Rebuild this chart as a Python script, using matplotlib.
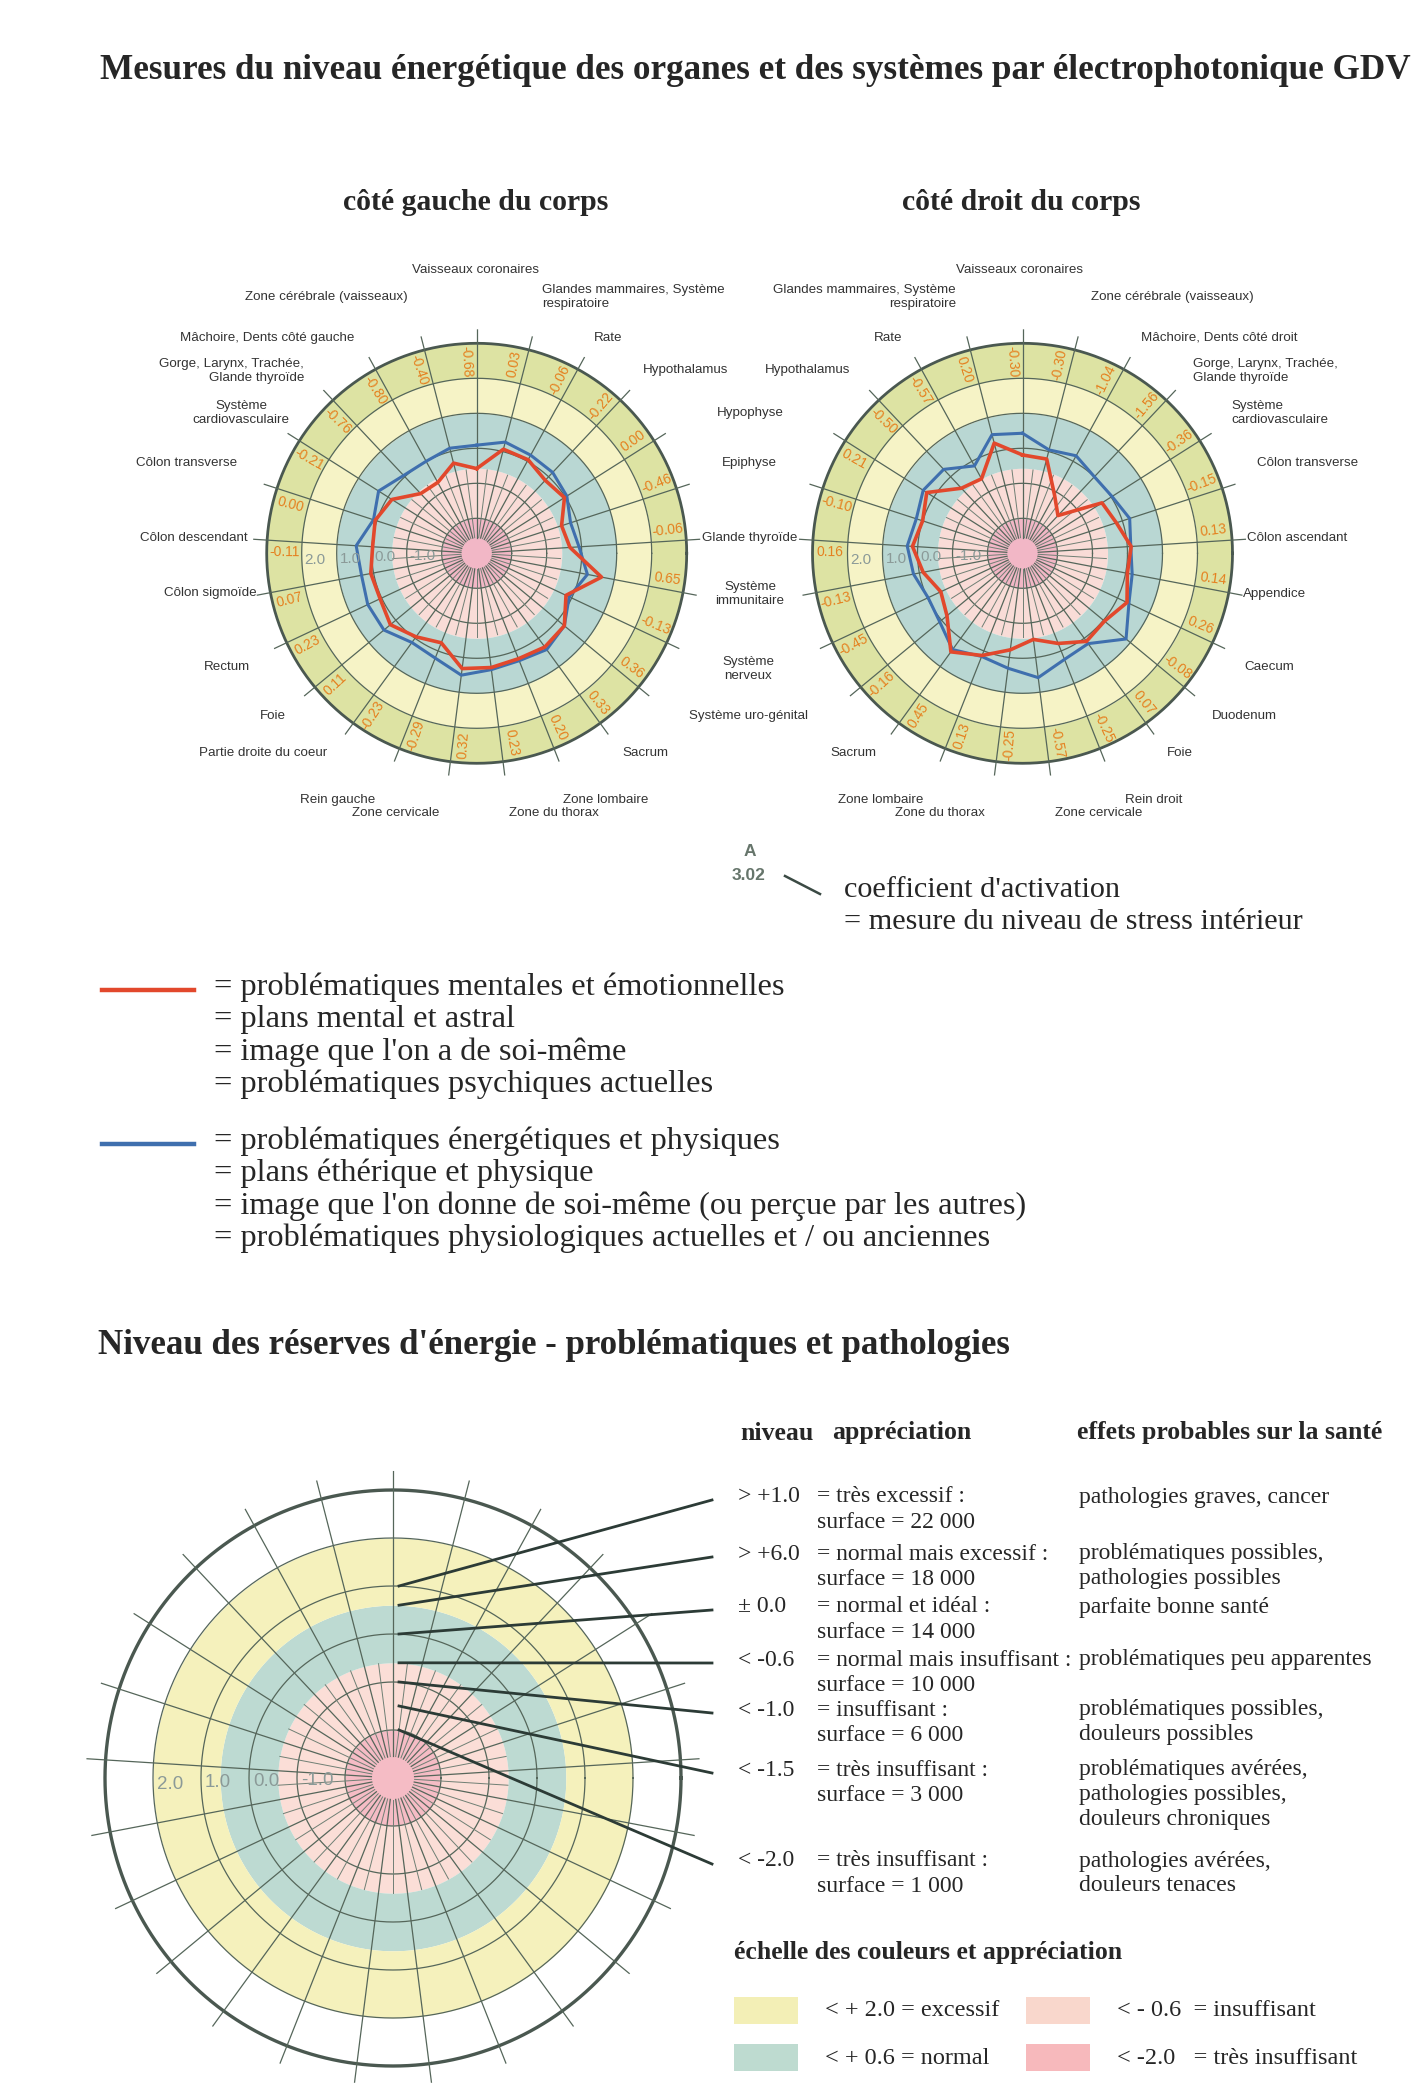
import numpy as np
import matplotlib
matplotlib.use("Agg")
import matplotlib.pyplot as plt
from matplotlib import font_manager
from matplotlib.lines import Line2D
from matplotlib.patches import Rectangle

W, H = 1422, 2097

# ---------------- data ----------------
organes_gauche = ["Vaisseaux coronaires", "Glandes mammaires, Système\nrespiratoire", "Rate",
                  "Hypothalamus", "Hypophyse", "Epiphyse", "Glande thyroïde",
                  "Système\nimmunitaire", "Système\nnerveux", "Système uro-génital", "Sacrum",
                  "Zone lombaire", "Zone du thorax", "Zone cervicale", "Rein gauche",
                  "Partie droite du coeur", "Foie", "Rectum", "Côlon sigmoïde",
                  "Côlon descendant", "Côlon transverse", "Système\ncardiovasculaire",
                  "Gorge, Larynx, Trachée,\nGlande thyroïde", "Mâchoire, Dents côté gauche",
                  "Zone cérébrale (vaisseaux)"]
organes_droit = ["Vaisseaux coronaires", "Zone cérébrale (vaisseaux)", "Mâchoire, Dents côté droit",
                 "Gorge, Larynx, Trachée,\nGlande thyroïde", "Système\ncardiovasculaire",
                 "Côlon transverse", "Côlon ascendant", "Appendice", "Caecum", "Duodenum", "Foie",
                 "Rein droit", "Zone cervicale", "Zone du thorax", "Zone lombaire", "Sacrum",
                 "Système uro-génital", "Système\nnerveux", "Système\nimmunitaire",
                 "Glande thyroïde", "Epiphyse", "Hypophyse", "Hypothalamus", "Rate",
                 "Glandes mammaires, Système\nrespiratoire"]

# values at each organ line, clockwise from the top
rouge_gauche = [-0.58, 0.07, 0.05, -0.14, -0.03, -0.45, -0.33, 0.63, -0.18, 0.25, 0.31, 0.24,
                0.29, 0.32, -0.25, -0.05, 0.20, 0.05, 0.08, -0.02, 0.05, -0.13, -0.66, -0.69, -0.34]
bleu_gauche = [0.09, 0.28, 0.20, 0.17, 0.05, -0.18, -0.07, 0.22, -0.08, 0.25, 0.40, 0.30,
               0.35, 0.51, 0.22, 0.15, 0.44, 0.44, 0.35, 0.45, 0.10, 0.32, 0.05, 0.00, 0.10]
rouge_droit = [-0.19, -0.22, -1.10, -1.52, -0.31, -0.18, 0.11, 0.05, 0.30, 0.04, 0.11, -0.23,
               -0.52, -0.22, 0.14, 0.48, -0.20, -0.42, -0.11, 0.15, 0.00, 0.24, -0.45, -0.57, 0.25]
bleu_droit = [0.43, 0.05, 0.18, 0.00, 0.03, 0.22, 0.10, 0.19, 0.36, 0.84, 0.19, 0.26,
              0.58, 0.31, 0.17, 0.40, 0.07, -0.02, 0.17, 0.30, 0.19, 0.36, 0.29, -0.15, 0.50]

# values written in the outer ring, clockwise from the sector left of the top
secteurs_gauche = [-0.68, 0.03, -0.06, -0.22, 0.00, -0.46, -0.06, 0.65, -0.13, 0.36, 0.33, 0.20,
                   0.23, 0.32, -0.29, -0.23, 0.11, 0.23, 0.07, -0.11, 0.00, -0.21, -0.76, -0.80, -0.40]
secteurs_droit = [-0.30, -0.30, -1.04, -1.56, -0.36, -0.15, 0.13, 0.14, 0.26, -0.08, 0.07, -0.25,
                  -0.57, -0.25, 0.13, 0.45, -0.16, -0.45, -0.13, 0.16, -0.10, 0.21, -0.50, -0.57, 0.20]

anneaux = [2.0, 1.0, 0.0, -1.0]
coefficient = 3.02

legende_rouge = ["= problématiques mentales et émotionnelles", "= plans mental et astral",
                 "= image que l'on a de soi-même", "= problématiques psychiques actuelles"]
legende_bleu = ["= problématiques énergétiques et physiques", "= plans éthérique et physique",
                "= image que l'on donne de soi-même (ou perçue par les autres)",
                "= problématiques physiologiques actuelles et / ou anciennes"]

niveaux = [1.0, 0.6, 0.0, -0.6, -1.0, -1.5, -2.0]
niveaux_txt = ["> +1.0", "> +6.0", "± 0.0", "< -0.6", "< -1.0", "< -1.5", "< -2.0"]
appreciations = ["= très excessif :", "= normal mais excessif :", "= normal et idéal :",
                 "= normal mais insuffisant :", "= insuffisant :", "= très insuffisant :",
                 "= très insuffisant :"]
surfaces = [22000, 18000, 14000, 10000, 6000, 3000, 1000]
effets = ["pathologies graves, cancer", "problématiques possibles,\npathologies possibles",
          "parfaite bonne santé", "problématiques peu apparentes",
          "problématiques possibles,\ndouleurs possibles",
          "problématiques avérées,\npathologies possibles,\ndouleurs chroniques",
          "pathologies avérées,\ndouleurs tenaces"]

echelle = ["< + 2.0 = excessif", "< + 0.6 = normal", "< - 0.6  = insuffisant", "< -2.0   = très insuffisant"]

# ---------------- style ----------------
names = {f.name for f in font_manager.fontManager.ttflist}
NARROW = 'Liberation Sans Narrow' if 'Liberation Sans Narrow' in names else 'Liberation Sans'
SANS = 'Liberation Sans'
SERIF = 'Liberation Serif'
TXT = '#262626'
GRID = '#55665a'
ORANGE = '#e5801f'
ROUGE = '#e2482c'
BLEU = '#3f6fae'

fig = plt.figure(figsize=(W / 100, H / 100), dpi=100)
fig.patch.set_facecolor('white')


def px(x, y):
    return x / W, 1 - y / H


def ftext(x, y, s, **kw):
    fx, fy = px(x, y)
    fig.text(fx, fy, s, **kw)


theta = np.linspace(0, 2 * np.pi, 721)
angles = 90 - 14.4 * np.arange(25)


def polar(cx, cy, scale, rmax):
    R = scale * (rmax + 3)
    ax = fig.add_axes([(cx - R) / W, 1 - (cy + R) / H, 2 * R / W, 2 * R / H], projection='polar')
    ax.set_ylim(-3, rmax)
    ax.set_axis_off()
    return ax


def grille(ax, bandes, rmax, lw_out=2.0):
    for v0, v1, c in bandes:
        ax.fill_between(theta, v0, v1, color=c, lw=0, zorder=1)
    for v in [-2, -1, 0, 1, 2]:
        ax.plot(theta, np.full_like(theta, v), color=GRID, lw=0.9, zorder=2)
    ax.plot(theta, np.full_like(theta, 3.0), color='#4a5850', lw=lw_out, zorder=2)
    for a in angles:
        t = np.deg2rad(a)
        ax.plot([t, t], [-2.55, rmax], color=GRID, lw=0.9, zorder=2)
        t2 = np.deg2rad(a - 7.2)
        ax.plot([t2, t2], [-2.55, -0.6], color='#6f7f74', lw=0.7, zorder=2)


def upright(a):
    a = (a + 180) % 360 - 180
    return a if -90 < a <= 90 else a - 180


def radar(ax, rouge, bleu, secteurs):
    grille(ax, [(-3, -2, '#f2b7c6'), (-2, -0.57, '#f9dcd7'), (-0.57, 1.0, '#b9d7d3'),
                (1.0, 2.0, '#f6f3c6'), (2.0, 3.0, '#dde3a3')], 3.4)
    t = np.deg2rad(np.append(angles, angles[0]))
    ax.plot(t, np.append(bleu, bleu[0]), color=BLEU, lw=2.2, zorder=4)
    ax.plot(t, np.append(rouge, rouge[0]), color=ROUGE, lw=2.6, zorder=5)
    for j, v in enumerate(secteurs):
        a = 97.2 - 14.4 * j - 4
        ax.text(np.deg2rad(a), 2.5, f"{v:.2f}", rotation=upright(a), rotation_mode='anchor',
                ha='center', va='center', color=ORANGE, fontsize=10, family=SANS, zorder=6)
    for v in anneaux:
        ax.text(np.deg2rad(182.2), v - 0.08, f"{v:.1f}", ha='left', va='center',
                color='#8b9a98', fontsize=11, family=SANS, zorder=6)


# ---------------- titles ----------------
ftext(100, 70, "Mesures du niveau énergétique des organes et des systèmes par électrophotonique GDV",
      family=SERIF, weight='bold', fontsize=25.3, color=TXT, ha='left', va='center')
ftext(476, 202, "côté gauche du corps", family=SERIF, weight='bold', fontsize=21.4, color=TXT,
      ha='center', va='center')
ftext(1021, 202, "côté droit du corps", family=SERIF, weight='bold', fontsize=21.4, color=TXT,
      ha='center', va='center')

# ---------------- the two radar charts ----------------
axg = polar(476.7, 553.3, 35, 3.4)
radar(axg, rouge_gauche, bleu_gauche, secteurs_gauche)
axd = polar(1022.5, 553.3, 35, 3.4)
radar(axd, rouge_droit, bleu_droit, secteurs_droit)

pos_gauche = {0: (476, 270, 'center'), 1: (542, 297, 'left'), 2: (608, 338, 'center'),
              3: (686, 370, 'center'), 4: (750, 413, 'center'), 5: (749, 463, 'center'),
              6: (750, 538, 'center'), 7: (750, 594, 'center'), 8: (748, 669, 'center'),
              9: (748, 716, 'center'), 10: (645, 753, 'center'), 11: (606, 800, 'center'),
              12: (554, 813, 'center'), 13: (396, 813, 'center'), 14: (338, 800, 'center'),
              15: (263, 753, 'center'), 16: (273, 716, 'center'), 17: (227, 667, 'center'),
              18: (210, 593, 'center'), 19: (194, 538, 'center'), 20: (187, 463, 'center'),
              21: (241, 413, 'center'), 22: (304, 371, 'right'), 23: (267, 338, 'center'),
              24: (326, 297, 'center')}
pos_droit = {0: (1019, 270, 'center'), 1: (1172, 297, 'center'), 2: (1219, 338, 'center'),
             3: (1193, 371, 'left'), 4: (1231, 413, 'left'), 5: (1308, 463, 'center'),
             6: (1297, 538, 'center'), 7: (1275, 594, 'center'), 8: (1269, 667, 'center'),
             9: (1244, 716, 'center'), 10: (1180, 753, 'center'), 11: (1154, 800, 'center'),
             12: (1099, 813, 'center'), 13: (940, 813, 'center'), 14: (881, 800, 'center'),
             15: (853, 753, 'center'), 22: (808, 370, 'center'), 23: (888, 338, 'center'),
             24: (956, 297, 'right')}
lab_size = 11 if NARROW != SANS else 9.6
for organes, pos in [(organes_gauche, pos_gauche), (organes_droit, pos_droit)]:
    for k, (x, y, ha) in pos.items():
        ftext(x, y, organes[k], ha=ha, va='center', family=NARROW, fontsize=lab_size,
              color='#333333', linespacing=1.2, multialignment=ha)

# activation coefficient
ftext(750, 851, "A", family=NARROW, weight='bold', fontsize=12.5, color='#66756b', ha='center', va='center')
ftext(749, 876, f"{coefficient:.2f}", family=NARROW, weight='bold', fontsize=12.5, color='#66756b',
      ha='center', va='center')
fig.add_artist(Line2D([785 / W, 820 / W], [1 - 876 / H, 1 - 894 / H], color='#3b4a44', lw=1.8))
ftext(844, 890, "coefficient d'activation", family=SERIF, fontsize=21.8, color=TXT, ha='left', va='center')
ftext(844, 922, "= mesure du niveau de stress intérieur", family=SERIF, fontsize=21.8, color=TXT,
      ha='left', va='center')

# ---------------- line legend ----------------
for couleur, lignes, y0 in [(ROUGE, legende_rouge, 987), (BLEU, legende_bleu, 1141)]:
    fig.add_artist(Line2D([102 / W, 194 / W], [1 - (y0 + 3) / H] * 2, color=couleur, lw=3.2))
    for i, s in enumerate(lignes):
        ftext(214, y0 + 32.5 * i, s, family=SERIF, fontsize=23.3, color=TXT, ha='left', va='center')

# ---------------- energy reserve chart ----------------
ftext(98, 1346, "Niveau des réserves d'énergie - problématiques et pathologies", family=SERIF,
      weight='bold', fontsize=25.1, color=TXT, ha='left', va='center')

axb = polar(393, 1778, 48, 3.4)
grille(axb, [(-3, -2, '#f5bcc5'), (-2, -0.6, '#fbded7'), (-0.6, 0.6, '#bddad2'),
             (0.6, 2.0, '#f5f1bc'), (2.0, 3.0, '#ffffff')], 3.4, lw_out=2.4)
for v in anneaux:
    axb.text(np.deg2rad(181.5), v - 0.08, f"{v:.1f}", ha='left', va='center',
             color='#8b9a98', fontsize=13.5, family=SANS, zorder=6)

# table
ftext(740, 1433, "niveau", family=SERIF, weight='bold', fontsize=18.5, color=TXT, ha='left', va='center')
ftext(832, 1433, "appréciation", family=SERIF, weight='bold', fontsize=18.5, color=TXT, ha='left', va='center')
ftext(1077, 1433, "effets probables sur la santé", family=SERIF, weight='bold', fontsize=18.5,
      color=TXT, ha='left', va='center')
rangs_y = [1497, 1554, 1607, 1660, 1710, 1770, 1861]
fig.canvas.draw()
inv = fig.transFigure.inverted()
for v, txt, app, surf, eff, y in zip(niveaux, niveaux_txt, appreciations, surfaces, effets, rangs_y):
    ftext(738, y, txt, family=SERIF, fontsize=17, color=TXT, ha='left', va='center')
    ftext(817, y, app, family=SERIF, fontsize=17, color=TXT, ha='left', va='center')
    ftext(817, y + 25.5, f"surface = {surf:,}".replace(",", " "), family=SERIF, fontsize=17,
          color=TXT, ha='left', va='center')
    for i, s in enumerate(eff.split("\n")):
        ftext(1079, y + 24.5 * i, s, family=SERIF, fontsize=17, color=TXT, ha='left', va='center')
    x0, y0 = axb.transData.transform((np.pi / 2, v))
    p0 = inv.transform((x0 + 6, y0))
    p1 = px(712, y + 3)
    fig.add_artist(Line2D([p0[0], p1[0]], [p0[1], p1[1]], color='#2c3b36', lw=2.0))

# colour scale
ftext(734, 1952, "échelle des couleurs et appréciation", family=SERIF, weight='bold', fontsize=18.5,
      color=TXT, ha='left', va='center')
couleurs = ['#f3efb6', '#bedbd0', '#f9d7cc', '#f7b9bc']
cases = [(734, 1997), (734, 2044), (1026, 1997), (1026, 2044)]
for (x, y), c, s in zip(cases, couleurs, echelle):
    fx, fy = px(x, y + 27)
    fig.add_artist(Rectangle((fx, fy), 64 / W, 27 / H, transform=fig.transFigure, color=c, lw=0))
    ftext(x + 91, y + 14, s, family=SERIF, fontsize=17.5, color=TXT, ha='left', va='center')

fig.savefig("out.png", dpi=100)
